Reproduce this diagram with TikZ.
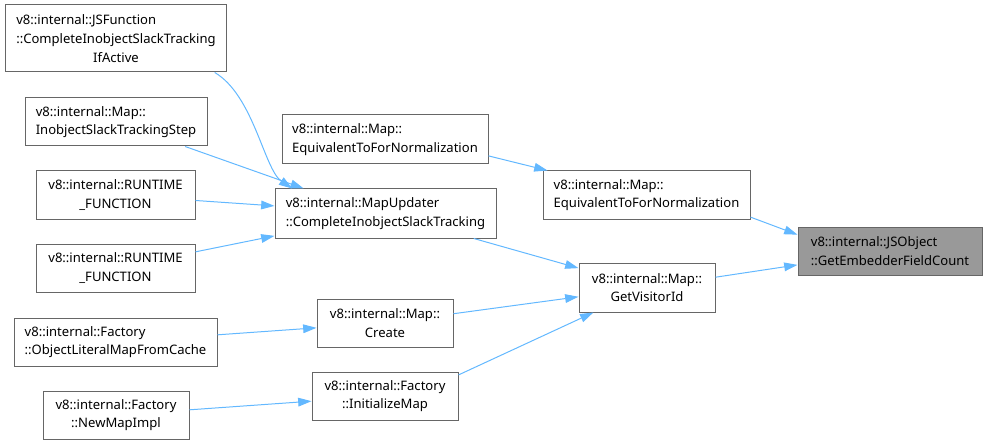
\documentclass[tikz,border=0pt]{standalone}
\usepackage{fontspec}
\setmainfont{Noto Sans}
\usepackage{xcolor}
\usepackage{tikz}
\usetikzlibrary{arrows.meta}

\definecolor{edgeblue}{HTML}{63B8FF}
\definecolor{boxgray}{HTML}{666666}
\definecolor{curfill}{HTML}{999999}
\newcommand{\ctrline}[1]{\hspace*{\fill}#1\hspace*{\fill}}

\begin{document}
\begin{tikzpicture}[
  x=0.75pt, y=-0.75pt,
  every node/.style={font=\fontsize{9.8}{14}\selectfont},
  sz/.style 2 args={minimum width=#1*0.75pt, minimum height=#2*0.75pt},
  fn/.style={draw=boxgray, fill=white, line width=0.75pt, align=center, inner sep=2pt},
  fnl/.style={fn, align=left},
  cur/.style={fnl, fill=curfill},
  arr/.style={-{Triangle[length=10pt, width=6.5pt]}, draw=edgeblue, line width=0.75pt}
]
\useasboundingbox (0,0) rectangle (987,445);

% callers, left column
\node[fnl, sz={221}{67}] (jsf) at (116,38.5)
  {v8::internal::JSFunction\\::CompleteInobjectSlackTracking\\\ctrline{IfActive}};
\node[fnl, sz={182}{48}] (ists) at (116,122)
  {v8::internal::Map::\\InobjectSlackTrackingStep};
\node[fn, sz={159}{48}] (rt1) at (115.5,195) {v8::internal::RUNTIME\\\_FUNCTION};
\node[fn, sz={159}{48}] (rt2) at (115.5,268) {v8::internal::RUNTIME\\\_FUNCTION};
\node[fnl, sz={203}{48}] (olm) at (115.5,342)
  {v8::internal::Factory\\::ObjectLiteralMapFromCache};
\node[fn, sz={146}{48}] (nmi) at (116,415) {v8::internal::Factory\\::NewMapImpl};

% middle column
\node[fnl, sz={206}{49}] (eql) at (385,139.5)
  {v8::internal::Map::\\EquivalentToForNormalization};
\node[fnl, sz={221}{49}] (mu) at (385.5,213.5)
  {v8::internal::MapUpdater\\::CompleteInobjectSlackTracking};
\node[fn, sz={136}{48}] (cr) at (385,323) {v8::internal::Map::\\Create};
\node[fn, sz={146}{48}] (im) at (385,396) {v8::internal::Factory\\::InitializeMap};

% right side
\node[fnl, sz={207}{48}] (eqr) at (646.5,195)
  {v8::internal::Map::\\EquivalentToForNormalization};
\node[fn, sz={136}{49}] (gv) at (647,287.5) {v8::internal::Map::\\GetVisitorId};
\node[cur, sz={184}{48}] (jso) at (890,251)
  {v8::internal::JSObject\\::GetEmbedderFieldCount};

% edges
\draw[arr] (jsf.-19.4) .. controls +(39,23) and +(-28,-19) .. (mu.165.6);
\draw[arr] (ists) -- (mu.163.1);
\draw[arr] (rt1) -- (mu);
\draw[arr] (rt2) -- (mu);
\draw[arr] (olm) -- (cr);
\draw[arr] (nmi) -- (im);
\draw[arr] (eql.-9.6) -- (eqr);
\draw[arr] (mu) -- (gv);
\draw[arr] (cr) -- (gv);
\draw[arr] (im.16.8) -- (gv.205.7);
\draw[arr] (eqr.-12.8) -- (jso.170.7);
\draw[arr] (gv) -- (jso);
\end{tikzpicture}
\end{document}
